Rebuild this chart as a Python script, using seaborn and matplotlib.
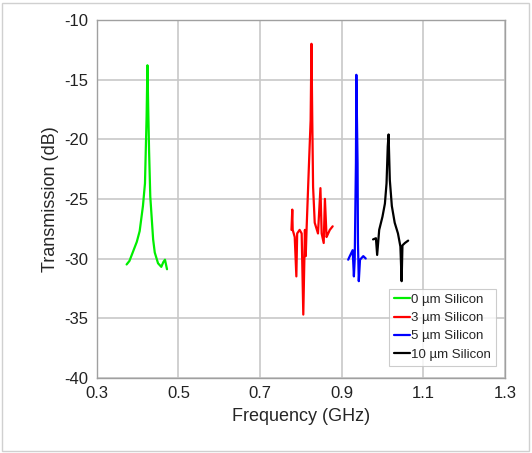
import numpy as np
import pandas as pd
import seaborn as sns
import matplotlib.pyplot as plt

# values
freq_0um = [0.373, 0.380, 0.389, 0.398, 0.405, 0.413, 0.418, 0.422, 0.424, 0.426, 0.428, 0.431,
            0.438, 0.442, 0.450, 0.458, 0.463, 0.467, 0.472]
db_0um = [-30.5, -30.2, -29.4, -28.6, -27.7, -25.6, -23.7, -18.1, -13.8, -17.5, -20.9, -24.8,
          -28.4, -29.5, -30.4, -30.7, -30.3, -30.1, -30.9]

freq_3um = [0.777, 0.779, 0.780, 0.785, 0.789, 0.791, 0.797, 0.802, 0.806, 0.810, 0.812, 0.814,
            0.820, 0.824, 0.826, 0.828, 0.830, 0.834, 0.842, 0.848, 0.851, 0.856, 0.859, 0.863,
            0.867, 0.871, 0.878]
db_3um = [-27.6, -25.9, -27.6, -28.2, -31.5, -27.9, -27.6, -27.9, -34.7, -27.6, -29.8, -27.6,
          -22.0, -18.4, -12.0, -18.4, -24.0, -27.0, -27.9, -24.1, -27.9, -28.7, -25.0, -28.2,
          -27.9, -27.6, -27.3]

freq_5um = [0.916, 0.920, 0.927, 0.930, 0.932, 0.935, 0.936, 0.939, 0.940, 0.942, 0.945, 0.953,
            0.959]
db_5um = [-30.1, -29.8, -29.3, -31.5, -30.1, -22.0, -14.6, -22.0, -28.7, -31.9, -30.1, -29.8,
          -30.0]

freq_10um = [0.977, 0.984, 0.987, 0.992, 1.000, 1.006, 1.010, 1.013, 1.015, 1.018, 1.023, 1.030,
             1.038, 1.044, 1.047, 1.049, 1.055, 1.063]
db_10um = [-28.4, -28.3, -29.7, -27.6, -26.5, -25.4, -23.7, -20.6, -19.6, -23.4, -25.6, -27.0,
           -27.9, -29.0, -31.9, -28.9, -28.7, -28.5]

labels = ["0 µm Silicon", "3 µm Silicon", "5 µm Silicon", "10 µm Silicon"]
colors = ["#00ee00", "#ff0000", "#0000ff", "#000000"]

series = {
    labels[0]: (freq_0um, db_0um),
    labels[1]: (freq_3um, db_3um),
    labels[2]: (freq_5um, db_5um),
    labels[3]: (freq_10um, db_10um),
}

sns.set_style("white")
plt.rcParams['font.family'] = ['Liberation Sans', 'DejaVu Sans']
plt.rcParams['axes.unicode_minus'] = False

fig = plt.figure(figsize=(5.32, 4.53), dpi=100)
ax = fig.add_axes([0.182, 0.166, 0.767, 0.79])

for lab, col in zip(labels, colors):
    f, d = series[lab]
    sub = pd.DataFrame({"freq": f, "db": d})
    sns.lineplot(data=sub, x="freq", y="db", sort=False, color=col,
                 linewidth=1.6, ax=ax, label=lab)

ax.set_xlim(0.3, 1.3)
ax.set_ylim(-40, -10)
ax.set_xticks(np.arange(0.3, 1.31, 0.2))
ax.set_xticklabels(["0.3", "0.5", "0.7", "0.9", "1.1", "1.3"])
ax.set_yticks(np.arange(-40, -9, 5))
ax.grid(True, color="#c8c8c8", linewidth=1.2)
for s in ax.spines.values():
    s.set_color("#a0a0a0")
    s.set_linewidth(1.0)
ax.tick_params(labelsize=12, colors="#222222", length=0, pad=6)
ax.set_xlabel("Frequency (GHz)", fontsize=13, labelpad=5)
ax.set_ylabel("Transmission (dB)", fontsize=13, labelpad=4)

leg = ax.legend(loc="lower right", fontsize=9.5, handlelength=1.2, handletextpad=0.1,
                borderpad=0.4, labelspacing=0.45, frameon=True, fancybox=False,
                bbox_to_anchor=(0.995, 0.015))
leg.get_frame().set_edgecolor("#c0c0c0")
leg.get_frame().set_linewidth(0.8)

fig.patches.append(plt.Rectangle((0.004, 0.004), 0.99, 0.99, transform=fig.transFigure,
                                 fill=False, edgecolor="#d0d0d0", linewidth=1.0))

fig.savefig("out.png", dpi=100)
